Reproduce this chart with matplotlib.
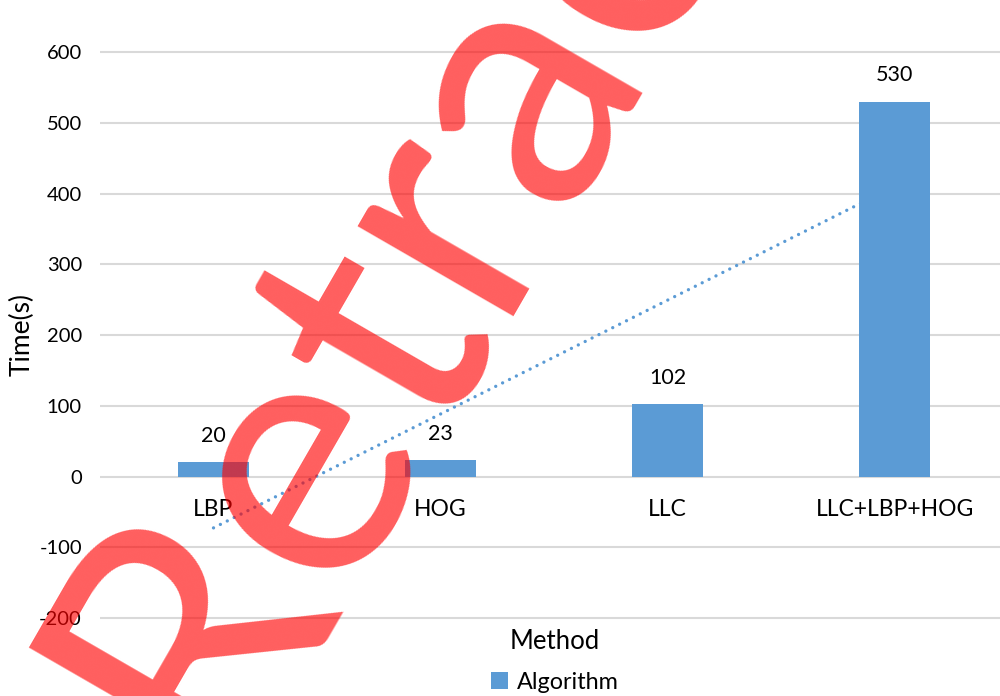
import matplotlib.pyplot as plt
import numpy as np

methods = ['LBP', 'HOG', 'LLC', 'LLC+LBP+HOG']
times = [20, 23, 102, 530]
yticks = [-200, -100, 0, 100, 200, 300, 400, 500, 600]

bar_color = '#5b9bd5'
plt.rcParams['font.family'] = ['Lato', 'DejaVu Sans']
plt.rcParams['axes.unicode_minus'] = False

fig = plt.figure(figsize=(10, 6.96), dpi=100)
ax = fig.add_axes([0.1, 0.109, 0.908, 0.891])

x = np.arange(len(methods))
bars = ax.bar(x, times, width=0.31, color=bar_color, zorder=3, label='Algorithm')

# linear trend line (Excel style, fitted over category index 1..4)
slope, intercept = np.polyfit(x + 1, times, 1)
ax.plot(x, slope * (x + 1) + intercept, color=bar_color, linewidth=2.4,
        linestyle=(0, (0.01, 2.3)), dash_capstyle='round', zorder=2)

for xi, t in zip(x, times):
    ax.annotate(str(t), (xi, t), xytext=(0, 19), textcoords='offset points',
                ha='center', va='center', fontsize=15.5)
    ax.annotate(methods[xi], (xi, 0), xytext=(0, -24), textcoords='offset points',
                ha='center', va='center', fontsize=16.5)

ax.set_xlim(-0.5, 3.5)
ax.set_ylim(-203, 673.5)
ax.set_yticks(yticks)
ax.set_xticks([])
ax.tick_params(axis='y', length=0, pad=13, labelsize=14.5)
ax.grid(axis='y', color='#d9d9d9', linewidth=1.5, zorder=0)
ax.set_axisbelow(True)
for s in ax.spines.values():
    s.set_visible(False)

fig.text(0.022, 0.519, 'Time(s)', rotation=90, ha='center', va='center', fontsize=19)
fig.text(0.555, 0.079, 'Method', ha='center', va='center', fontsize=18.5)
ax.legend(loc='center', bbox_to_anchor=(0.555, 0.02), bbox_transform=fig.transFigure,
          frameon=False, fontsize=16.8, handlelength=0.7, handleheight=0.7,
          handletextpad=0.4)

# retraction watermark
fig.text(0.217, -0.1135, 'Retracted', rotation=60, rotation_mode='anchor',
         ha='left', va='baseline', fontsize=256, color='red', alpha=0.63, zorder=10)

fig.savefig('out.png', dpi=100)
